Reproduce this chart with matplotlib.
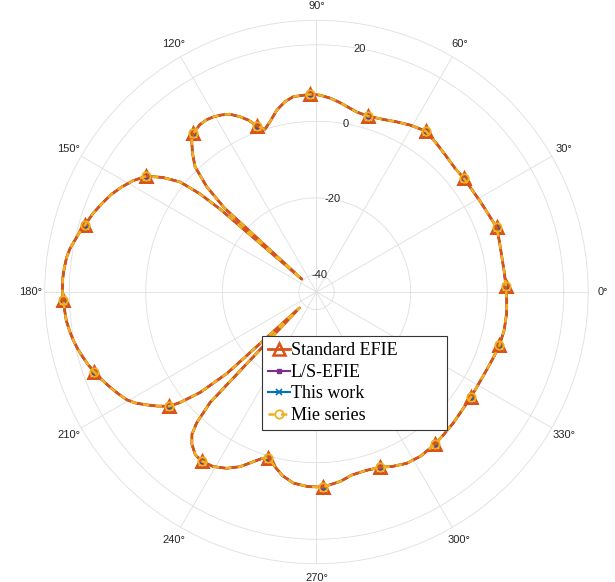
import numpy as np
import matplotlib
matplotlib.use("Agg")
import matplotlib.pyplot as plt

# ---------------- data ----------------
theta_deg = [1.8, 6.0, 10.8, 15.5, 19.8, 24.0, 28.9, 33.0, 37.8, 41.8,
             46.1, 51.0, 55.8, 60.8, 64.8, 68.9, 73.8, 77.4, 83.0, 86.0,
             89.0, 91.8, 96.8, 99.4, 102.3, 105.3, 107.6, 109.8, 111.6, 113.6,
             116.0, 118.2, 120.4, 122.6, 124.9, 127.8, 129.4, 131.8, 134.1, 136.2,
             137.6, 138.7, 139.3, 139.9, 141.1, 143.3, 145.8, 148.8, 151.8, 154.6,
             157.5, 160.6, 163.8, 166.0, 168.0, 170.0, 172.0, 174.5, 177.0, 179.5,
             181.8, 184.0, 186.5, 189.0, 191.2, 193.5, 195.5, 197.7, 199.8, 202.0,
             204.5, 207.0, 209.6, 211.5, 213.5, 215.6, 217.8, 219.0, 220.8, 222.3,
             223.0, 226.1, 227.5, 228.8, 230.7, 233.3, 235.8, 239.4, 243.0, 246.4,
             249.6, 251.8, 253.8, 256.6, 259.5, 263.1, 267.5, 271.8, 277.1, 281.0,
             285.5, 289.8, 293.5, 297.8, 302.5, 307.8, 312.0, 316.2, 321.0, 325.8,
             330.5, 335.4, 340.0, 343.8, 348.5, 353.6, 357.5, 361.8]

standard_efie_db = [4.9, 4.75, 4.7, 5.0, 5.4, 4.75, 4.3, 4.05, 4.05, 3.95,
                    4.45, 5.3, 6.25, 5.4, 4.55, 3.75, 3.3, 3.6, 5.3, 6.2,
                    6.85, 7.1, 6.8, 5.8, 4.05, 1.5, 0.0, 1.6, 3.7, 5.4,
                    7.1, 7.9, 8.5, 8.8, 8.7, 7.9, 6.8, 4.0, 1.0, -4.9,
                    -12.0, -39.5, -11.5, -4.7, 1.2, 5.5, 9.25, 11.5, 13.3, 14.8,
                    16.0, 17.3, 18.35, 19.3, 20.0, 20.8, 21.3, 21.6, 21.8, 21.8,
                    21.6, 21.4, 21.2, 20.7, 20.2, 19.5, 18.8, 18.0, 17.1, 16.1,
                    14.9, 13.7, 12.4, 10.9, 8.8, 6.6, 4.1, 1.3, -4.4, -13.0,
                    -38.5, -4.5, 1.7, 4.8, 6.8, 8.4, 8.8, 8.4, 7.1, 5.2,
                    2.7, 1.2, 0.45, 2.3, 4.2, 5.7, 6.3, 6.4, 5.3, 4.1,
                    3.8, 4.1, 5.1, 6.0, 6.2, 5.8, 5.3, 4.9, 4.4, 4.2,
                    4.1, 4.3, 4.75, 5.2, 5.45, 5.4, 5.15, 4.9]
# the four solutions coincide in the reference
ls_efie_db = list(standard_efie_db)
this_work_db = list(standard_efie_db)
mie_series_db = list(standard_efie_db)

marker_theta_deg = [1.8, 19.8, 37.8, 55.8, 73.8, 91.8, 109.8, 127.8, 145.8, 163.8,
                    181.8, 199.8, 217.8, 235.8, 253.8, 271.8, 289.8, 307.8, 325.8, 343.8]

series_labels = ["Standard EFIE", "L/S-EFIE", "This work", "Mie series"]
r_ticks = [-40, -20, 0, 20]
r_limits = (-44.6, 26.4)
theta_ticks = list(range(0, 360, 30))

# ---------------- styling ----------------
C_BLUE = "#0072BD"
C_ORANGE = "#D95319"
C_YELLOW = "#EDB120"
C_PURPLE = "#7E2F8E"
TXT = "#262626"
GRID = "#DFDFDF"

plt.rcParams["font.family"] = ["Liberation Sans", "DejaVu Sans"]

th = np.deg2rad(theta_deg)
mk_idx = [i for i, t in enumerate(theta_deg)
          if any(abs(t - m) < 1e-9 for m in marker_theta_deg)]

fig = plt.figure(figsize=(6.15, 5.82), dpi=100)
ax = fig.add_axes([0.0728, 0.0314, 0.8836, 0.9337], projection="polar")

ax.set_theta_zero_location("E")
ax.set_theta_direction(1)
ax.set_ylim(*r_limits)
ax.set_yticks(r_ticks)
ax.set_yticklabels([])
ax.set_thetagrids(theta_ticks, [f"{t}°" for t in theta_ticks])
ax.tick_params(axis="x", labelsize=8, labelcolor=TXT, pad=3.3, length=0)
ax.tick_params(axis="y", length=0)
ax.grid(True, color=GRID, linewidth=0.6)
ax.spines["polar"].set_color(GRID)
ax.spines["polar"].set_linewidth(0.6)

for v in r_ticks:
    ax.text(np.deg2rad(80), v, f"{v}", ha="center", va="center",
            fontsize=8, color=TXT)

# draw order: L/S, This work, Standard, Mie (Mie dashed on top)
l_ls, = ax.plot(th, ls_efie_db, color=C_PURPLE, lw=1.5, marker="s",
                markersize=3.5, markerfacecolor=C_PURPLE, markeredgecolor=C_PURPLE,
                markevery=mk_idx, label=series_labels[1])
l_tw, = ax.plot(th, this_work_db, color=C_BLUE, lw=1.5, marker="x",
                markersize=4.5, markeredgewidth=1.2, markevery=mk_idx,
                label=series_labels[2])
l_std, = ax.plot(th, standard_efie_db, color=C_ORANGE, lw=2.0, marker="^",
                 markersize=8, markerfacecolor="none", markeredgecolor=C_ORANGE,
                 markeredgewidth=1.8, markevery=mk_idx, label=series_labels[0])
l_mie, = ax.plot(th, mie_series_db, color=C_YELLOW, lw=1.8, linestyle=(0, (2.5, 2.5)),
                 marker="o", markersize=6, markerfacecolor="none",
                 markeredgecolor=C_YELLOW, markeredgewidth=1.3, markevery=mk_idx,
                 label=series_labels[3])

leg = fig.legend([l_std, l_ls, l_tw, l_mie], series_labels,
                 loc="upper left",
                 bbox_to_anchor=(262 / 615, 1 - 429 / 582, 185 / 615, 93 / 582),
                 bbox_transform=fig.transFigure, mode="expand",
                 prop={"family": ["Liberation Serif", "DejaVu Serif"], "size": 13},
                 frameon=True, fancybox=False, framealpha=1,
                 edgecolor="#333333", borderaxespad=0, borderpad=0.35,
                 handlelength=1.2, handletextpad=0.05, labelspacing=0.25)
leg.get_frame().set_linewidth(0.8)

fig.savefig("out.png", dpi=100)
